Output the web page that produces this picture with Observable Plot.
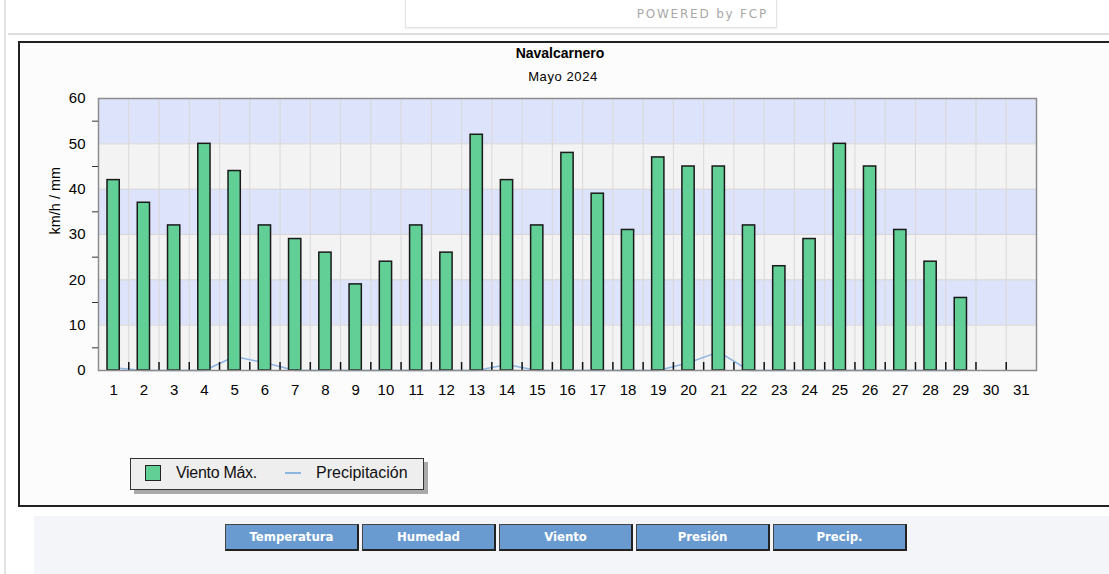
<!DOCTYPE html>
<html><head><meta charset="utf-8">
<script src="https://cdn.jsdelivr.net/npm/d3@7"></script>
<script src="https://cdn.jsdelivr.net/npm/@observablehq/plot@0.6"></script>
<style>
html,body{margin:0;padding:0}
body{width:1109px;height:574px;overflow:hidden;background:#fff;position:relative;font-family:"Liberation Sans",Arial,sans-serif}
.abs{position:absolute}
#vline{left:4px;top:0;width:2px;height:574px;background:#e2e2e2}
#hline{left:8px;top:33px;width:1101px;height:2px;background:#dedede}
#powered{left:405px;top:-6px;width:370px;height:32px;border:1px solid #e4e4e4;background:#fff;box-shadow:0 1px 2px #eee}
#powered span{position:absolute;right:8px;top:12px;font-size:12px;color:#a8a8a8;letter-spacing:1.8px;font-family:"DejaVu Sans",sans-serif}
#box{left:18px;top:41px;width:1200px;height:466px;border:2px solid #222;background:#fcfcfc;box-sizing:border-box}
#title{left:410px;width:300px;top:45px;text-align:center;font:bold 14px "Liberation Sans",sans-serif;color:#000}
#subtitle{left:413px;width:300px;top:69px;text-align:center;font:13px "Liberation Sans",sans-serif;color:#000;letter-spacing:0.6px}
#chart{left:0;top:90px}
#legend{left:130px;top:458px;width:294px;height:32px;box-sizing:border-box;border:1px solid #333;background:#eeeeee;box-shadow:4px 4px 0 #a9a9a9;font-size:16px;color:#111}
#legend .sw{position:absolute;left:14px;top:6px;width:14px;height:14px;border:1.5px solid #222;background:#62cf97}
#legend .t1{position:absolute;left:45px;top:5px;letter-spacing:-0.3px}
#legend .ln{position:absolute;left:154px;top:13px;width:16px;height:2px;background:#8db6e3}
#legend .t2{position:absolute;left:185px;top:5px}
#bottom{left:34px;top:516px;width:1075px;height:58px;background:#f3f5f9}
.btn{top:524px;width:134px;height:27px;box-sizing:border-box;background:#6a9bd0;border:1px solid #444;border-right:2px solid #222;border-bottom:2px solid #222;color:#fff;text-align:center;font:bold 13px/24px "DejaVu Sans Condensed","DejaVu Sans",sans-serif;font-stretch:condensed}
</style></head><body>
<div class="abs" id="vline"></div>
<div class="abs" id="hline"></div>
<div class="abs" id="powered"><span>POWERED by FCP</span></div>
<div class="abs" id="box"></div>
<div class="abs" id="title">Navalcarnero</div>
<div class="abs" id="subtitle">Mayo 2024</div>
<div class="abs" id="chart"></div>
<div class="abs" id="legend"><div class="sw"></div><div class="t1">Viento Máx.</div><div class="ln"></div><div class="t2">Precipitación</div></div>
<div class="abs" id="bottom"></div>
<div class="abs btn" style="left:225px">Temperatura</div>
<div class="abs btn" style="left:362px">Humedad</div>
<div class="abs btn" style="left:499px">Viento</div>
<div class="abs btn" style="left:636px">Presión</div>
<div class="abs btn" style="left:773px">Precip.</div>
<script>
const days = [1,2,3,4,5,6,7,8,9,10,11,12,13,14,15,16,17,18,19,20,21,22,23,24,25,26,27,28,29,30,31];
const vientoMax = [42,37,32,50,44,32,29,26,19,24,32,26,52,42,32,48,39,31,47,45,45,32,23,29,50,45,31,24,16,null,null];
const precipitacion = [0.6,0,0,0,3.1,1.7,0,0,0,0,0,0,0,1.3,0,0,0,0,0,1.7,4.1,0,0,0,0,0,0,0,0,null,null];
const yTicks = [0,10,20,30,40,50,60];
const yMinorTicks = [5,15,25,35,45,55];
const bandStarts = [0,10,20,30,40,50];

const data = days.map((d,i)=>({day:d, viento:vientoMax[i], precip:precipitacion[i]}));
const boundaries = days.slice(0,-1).map(d=>d+0.5);
const font = '"Liberation Sans",Arial,sans-serif';

const chart = Plot.plot({
  width:1109, height:320,
  marginLeft:98, marginRight:73, marginTop:8, marginBottom:40,
  style:{background:"transparent", fontFamily:font, fontSize:"15px", color:"#000", overflow:"visible"},
  x:{type:"linear", domain:[0.5,31.5], axis:null},
  y:{domain:[0,60], axis:null},
  marks:[
    Plot.rectY(bandStarts,{y1:d=>d, y2:d=>d+10, fill:d=>(d/10)%2===1?"#dce3fa":"#f3f3f3"}),
    Plot.ruleY(yTicks.slice(1,-1),{stroke:"#d6d6d6", strokeWidth:1}),
    Plot.ruleX(boundaries,{stroke:"#d9d9d9", strokeWidth:1}),
    Plot.line(data.filter(d=>d.precip!=null),{x:"day", y:"precip", stroke:"#8db6e3", strokeWidth:1.5}),
    Plot.ruleX(boundaries,{stroke:"#111", strokeWidth:1.5, insetTop:264}),
    Plot.rectY(data.filter(d=>d.viento!=null),{x1:d=>d.day-0.5, x2:d=>d.day+0.5, y:"viento", insetLeft:9, insetRight:9, fill:"#62cf97", stroke:"#1a1a1a", strokeWidth:1.5}),
    Plot.frame({stroke:"#8c8c8c", strokeWidth:1.5}),
    Plot.axisY({ticks:yTicks, tickSize:0, tickPadding:13, label:null, fontSize:15}),
    Plot.axisY({ticks:yMinorTicks, tickSize:6, tickFormat:()=>"", label:null, stroke:"#333"}),
    Plot.axisX({ticks:days, tickSize:0, tickPadding:14, label:null, fontSize:15}),
    Plot.text(["km/h / mm"],{frameAnchor:"left", dx:-43, rotate:-90, fontSize:14.5, fontFamily:font, fill:"#000"})
  ]
});
document.getElementById("chart").appendChild(chart);
</script>
</body></html>
